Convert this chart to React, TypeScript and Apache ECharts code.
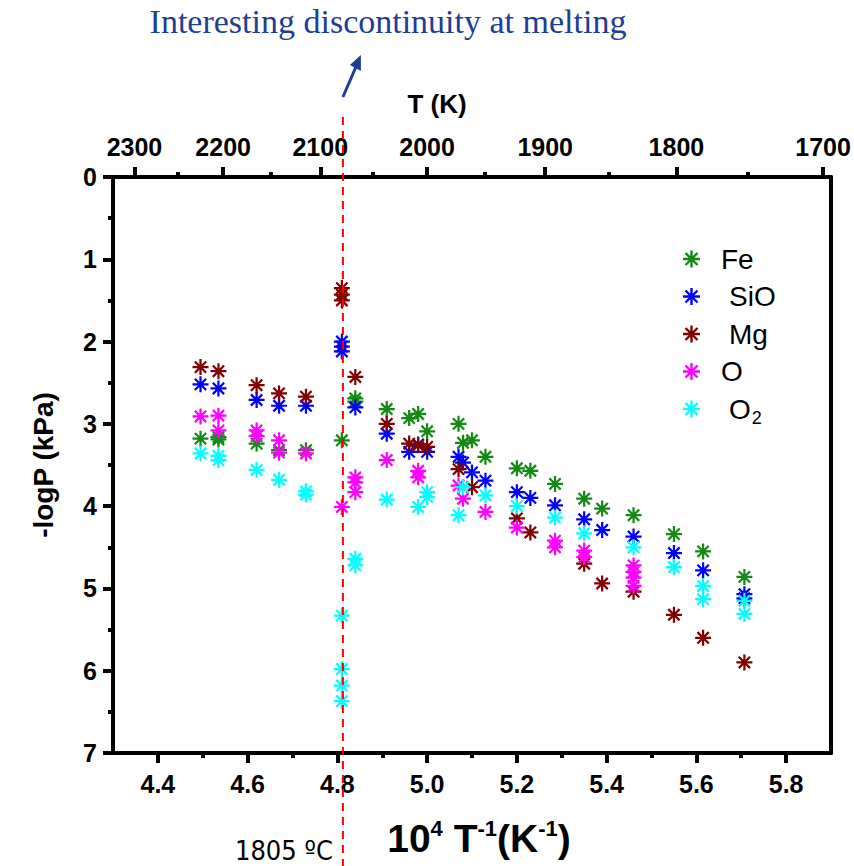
import React, { useEffect, useRef } from 'react';
import * as echarts from 'echarts';

// ---- data (x = 10^4/T, y = -logP) ----
const feData = [
  [4.495, 3.18], [4.535, 3.16], [4.535, 3.19], [4.62, 3.24], [4.67, 3.32], [4.73, 3.32],
  [4.81, 3.2], [4.84, 2.69], [4.84, 2.73], [4.91, 2.82], [4.96, 2.93], [4.98, 2.88],
  [5.0, 3.09], [5.07, 3.0], [5.08, 3.23], [5.1, 3.2], [5.13, 3.4], [5.2, 3.54],
  [5.23, 3.57], [5.285, 3.73], [5.35, 3.91], [5.39, 4.03], [5.46, 4.11],
  [5.55, 4.34], [5.615, 4.55], [5.707, 4.86],
];
const sioData = [
  [4.495, 2.52], [4.535, 2.57], [4.62, 2.71], [4.67, 2.78], [4.73, 2.78],
  [4.81, 2.0], [4.81, 2.06], [4.81, 2.12], [4.84, 2.8], [4.91, 3.12],
  [4.96, 3.34], [4.98, 3.25], [5.0, 3.34], [5.07, 3.4], [5.08, 3.47], [5.1, 3.59],
  [5.13, 3.69], [5.2, 3.83], [5.23, 3.9], [5.285, 3.99], [5.35, 4.16], [5.39, 4.29],
  [5.46, 4.37], [5.55, 4.57], [5.615, 4.78], [5.707, 5.07], [5.707, 5.12],
];
const mgData = [
  [4.495, 2.31], [4.535, 2.36], [4.62, 2.53], [4.67, 2.63], [4.73, 2.67],
  [4.81, 1.35], [4.81, 1.43], [4.81, 1.5], [4.84, 2.43], [4.91, 3.0],
  [4.96, 3.24], [4.98, 3.26], [5.0, 3.28], [5.07, 3.55], [5.1, 3.77],
  [5.2, 4.15], [5.23, 4.32], [5.35, 4.7], [5.39, 4.94], [5.46, 5.04],
  [5.55, 5.32], [5.615, 5.6], [5.707, 5.9],
];
const oData = [
  [4.495, 2.91], [4.535, 2.9], [4.535, 3.08], [4.62, 3.08], [4.62, 3.15],
  [4.67, 3.2], [4.67, 3.35], [4.73, 3.36], [4.81, 4.01], [4.84, 3.65],
  [4.84, 3.71], [4.84, 3.83], [4.91, 3.44], [4.98, 3.57], [4.98, 3.65],
  [5.07, 3.75], [5.08, 3.91], [5.13, 4.07], [5.2, 4.26], [5.285, 4.42],
  [5.285, 4.5], [5.35, 4.54], [5.35, 4.62], [5.46, 4.72], [5.46, 4.8],
  [5.46, 4.87], [5.46, 4.97],
];
const o2Data = [
  [4.495, 3.36], [4.535, 3.39], [4.535, 3.44], [4.62, 3.56], [4.67, 3.68],
  [4.73, 3.82], [4.73, 3.86], [4.81, 5.33], [4.81, 5.98], [4.81, 6.18],
  [4.81, 6.37], [4.84, 4.64], [4.84, 4.72], [4.91, 3.92], [4.98, 4.01],
  [5.0, 3.83], [5.0, 3.89], [5.07, 4.11], [5.08, 3.77], [5.13, 3.87],
  [5.2, 4.0], [5.285, 4.14], [5.35, 4.33], [5.46, 4.5], [5.55, 4.74],
  [5.615, 4.97], [5.615, 5.13], [5.707, 5.15], [5.707, 5.31],
];

const seriesNames = ['Fe', 'SiO', 'Mg', 'O', 'O2'];
const seriesColors = ['#138a13', '#0000ff', '#800000', '#ff00ff', '#00ffff'];

const xTicks = [4.4, 4.6, 4.8, 5.0, 5.2, 5.4, 5.6, 5.8];
const xMinorTicks = [4.5, 4.7, 4.9, 5.1, 5.3, 5.5, 5.7];
const tempTicks = [2300, 2200, 2100, 2000, 1900, 1800, 1700];
const tempMinorTicks = [2250, 2150, 2050, 1950, 1850, 1750];
const meltingInvT = 1e4 / 2078; // 1805 °C

const STAR =
  'path://M8.6,0L11.4,0L11.4,20L8.6,20Z M0,8.6L20,8.6L20,11.4L0,11.4Z M3.92,1.94L18.06,16.08L16.08,18.06L1.94,3.92Z M16.08,1.94L18.06,3.92L3.92,18.06L1.94,16.08Z';

const SANS = '"Liberation Sans", Arial, sans-serif';
const BLACK = '#000';

export default function App() {
  const ref = useRef<HTMLDivElement>(null);
  useEffect(() => {
    document.body.style.margin = '0';
    const chart = echarts.init(ref.current!, null, { renderer: 'svg' });
    const tickLabel = { color: BLACK, fontFamily: SANS, fontWeight: 'bold' as const, fontSize: 25 };
    const lineStyle = { color: BLACK, width: 4 };
    const datasets = [feData, sioData, mgData, oData, o2Data];
    chart.setOption({
      animation: false,
      grid: { left: 113, right: 23, top: 177, bottom: 113 },
      legend: {
        orient: 'vertical',
        left: 678,
        top: 240,
        itemWidth: 17,
        itemHeight: 17,
        itemGap: 9.5,
        data: seriesNames,
        formatter: (n: string) => {
          if (n === 'Fe') return '{a|Fe}';
          if (n === 'O') return '{a|O}';
          if (n === 'O2') return '{b|O}{s|2}';
          return '{b|' + n + '}';
        },
        textStyle: {
          color: BLACK,
          fontFamily: SANS,
          fontSize: 28,
          rich: {
            a: { fontSize: 28, fontFamily: SANS, color: BLACK, padding: [0, 0, 0, 16] },
            b: { fontSize: 28, fontFamily: SANS, color: BLACK, padding: [0, 0, 0, 24] },
            s: { fontSize: 18, fontFamily: SANS, color: BLACK, verticalAlign: 'bottom', padding: [18, 0, 0, 1] },
          },
        },
      },
      xAxis: [
        {
          type: 'value', position: 'bottom', min: 4.3, max: 5.9,
          axisLine: { onZero: false, lineStyle },
          axisTick: { customValues: xTicks, length: 10, lineStyle: { color: BLACK, width: 4 } },
          axisLabel: { customValues: xTicks, formatter: (v: number) => v.toFixed(1), margin: 18, ...tickLabel },
          splitLine: { show: false },
          name: '{b|10}{s|4}{b| T}{s|-1}{b|(K}{s|-1}{b|)}',
          nameLocation: 'middle',
          nameGap: 64,
          nameTextStyle: {
            padding: [0, 0, 0, 14],
            rich: {
              b: { fontSize: 39, fontWeight: 'bold', fontFamily: SANS, color: BLACK, lineHeight: 42 },
              s: { fontSize: 22, fontWeight: 'bold', fontFamily: SANS, color: BLACK, verticalAlign: 'top', lineHeight: 42, padding: [0, 0, 16, 0] },
            },
          },
        },
        {
          type: 'value', position: 'bottom', min: 4.3, max: 5.9,
          axisLine: { show: false, onZero: false },
          axisTick: { customValues: xMinorTicks, length: 5, lineStyle: { color: BLACK, width: 4 } },
          axisLabel: { show: false },
          splitLine: { show: false },
        },
        {
          type: 'value', position: 'top', min: 4.3, max: 5.9,
          axisLine: { onZero: false, lineStyle },
          axisTick: { customValues: tempTicks.map((t) => 1e4 / t), length: 10, lineStyle: { color: BLACK, width: 4 } },
          axisLabel: {
            customValues: tempTicks.map((t) => 1e4 / t),
            formatter: (v: number) => String(Math.round(1e4 / v)),
            margin: 18,
            ...tickLabel,
          },
          splitLine: { show: false },
          name: 'T (K)',
          nameLocation: 'middle',
          nameGap: 60,
          nameTextStyle: { color: BLACK, fontFamily: SANS, fontWeight: 'bold', fontSize: 26, padding: [0, 70, 0, 0] },
        },
        {
          type: 'value', position: 'top', min: 4.3, max: 5.9,
          axisLine: { show: false, onZero: false },
          axisTick: { customValues: tempMinorTicks.map((t) => 1e4 / t), length: 5, lineStyle: { color: BLACK, width: 4 } },
          axisLabel: { show: false },
          splitLine: { show: false },
        },
      ],
      yAxis: [
        {
          type: 'value', inverse: true, min: 0, max: 7, interval: 1,
          axisLine: { onZero: false, lineStyle },
          axisTick: { length: 10, lineStyle: { color: BLACK, width: 4 } },
          minorTick: { show: true, splitNumber: 2, length: 5, lineStyle: { color: BLACK, width: 4 } },
          axisLabel: { margin: 16, ...tickLabel },
          splitLine: { show: false },
          name: '-logP (kPa)',
          nameLocation: 'middle',
          nameGap: 56,
          nameRotate: 90,
          nameTextStyle: { color: BLACK, fontFamily: SANS, fontWeight: 'bold', fontSize: 28 },
        },
        {
          type: 'value', position: 'right', inverse: true, min: 0, max: 7,
          axisLine: { show: true, onZero: false, lineStyle },
          axisTick: { show: false },
          axisLabel: { show: false },
          splitLine: { show: false },
        },
      ],
      series: seriesNames.map((name, i) => ({
        name,
        type: 'scatter',
        xAxisIndex: 0,
        yAxisIndex: 0,
        symbol: STAR,
        symbolSize: 16,
        itemStyle: { color: seriesColors[i], opacity: 1 },
        data: datasets[i],
      })),
    });

    const px = chart.convertToPixel({ xAxisIndex: 0 }, meltingInvT) as number;
    chart.setOption({
      graphic: [
        {
          type: 'text', x: 388, y: 4, z: 100,
          style: {
            text: 'Interesting discontinuity at melting',
            fontFamily: '"Liberation Serif", "Times New Roman", serif',
            fontSize: 34,
            fill: '#1f3c98',
            align: 'center',
          },
        },
        {
          type: 'line', z: 100,
          shape: { x1: px, y1: 97, x2: px + 13, y2: 67 },
          style: { stroke: '#1f3c98', lineWidth: 3 },
        },
        {
          type: 'polygon', z: 100,
          shape: { points: [[px + 18, 55], [px + 18, 71], [px + 7, 65]] },
          style: { fill: '#1f3c98' },
        },
        {
          type: 'line', z: 100,
          shape: { x1: px, y1: 117, x2: px, y2: 866 },
          style: { stroke: '#ff0000', lineWidth: 2, lineDash: [8, 6] },
        },
        {
          type: 'text', z: 100,
          x: px - 10, y: 850,
          style: {
            text: '1805 ºC',
            fontFamily: '"Liberation Sans Narrow", "DejaVu Sans Condensed", sans-serif',
            fontSize: 27,
            fill: BLACK,
            align: 'right',
            verticalAlign: 'middle',
          },
        },
      ],
    });

    return () => chart.dispose();
  }, []);
  return <div ref={ref} style={{ width: 854, height: 866 }} />;
}
